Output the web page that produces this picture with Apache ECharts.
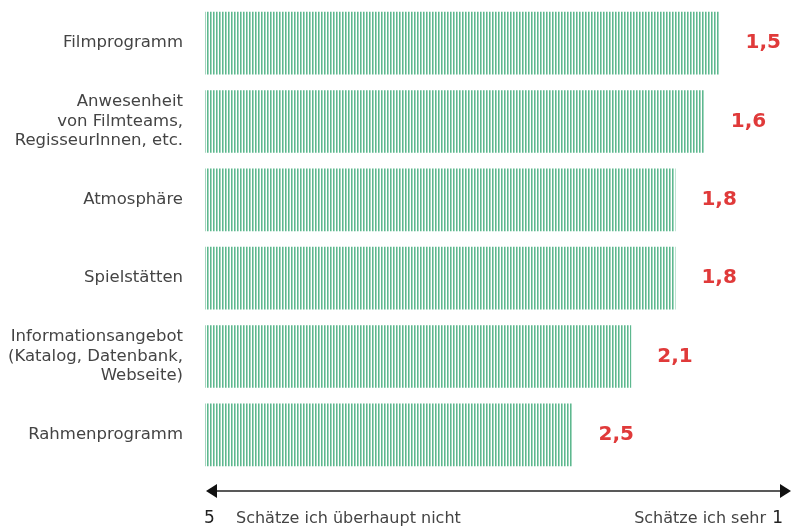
<!DOCTYPE html>
<html lang="de">
<head>
    <meta charset="UTF-8">
    <title>Bewertung</title>
    <script src="https://cdn.jsdelivr.net/npm/echarts@6/dist/echarts.min.js"></script>
</head>
<style>
    html,body{
        padding: 0;
        margin: 0;
        background: #fff;
    }
</style>
<body>
<div id="chart" style="width: 794px;height:527px;"></div>
</body>
<script type="text/javascript">
    // Daten (Skala 5 = schätze ich überhaupt nicht ... 1 = schätze ich sehr)
    var categories = [
        'Filmprogramm',
        'Anwesenheit\nvon Filmteams,\nRegisseurInnen, etc.',
        'Atmosphäre',
        'Spielstätten',
        'Informationsangebot\n(Katalog, Datenbank,\nWebseite)',
        'Rahmenprogramm'
    ];
    var scores = [1.5, 1.6, 1.8, 1.8, 2.1, 2.5];
    var scaleEnds = [5, 1];
    var scaleTexts = ['Schätze ich überhaupt nicht', 'Schätze ich sehr'];

    var font = '"DejaVu Sans", sans-serif';

    // Streifenmuster für die Balken
    var pat = document.createElement('canvas');
    pat.width = 3;
    pat.height = 4;
    var ctx = pat.getContext('2d');
    ctx.fillStyle = '#ffffff';
    ctx.fillRect(0, 0, 3, 4);
    ctx.fillStyle = '#5db88f';
    ctx.fillRect(0, 0, 1, 4);
    ctx.fillStyle = '#a3d6be';
    ctx.fillRect(1, 0, 1, 4);

    var myChart = echarts.init(document.getElementById('chart'));

    // Balkenlänge = Abstand vom Skalenanfang (5)
    var barData = scores.map(function (v) {
        return { value: scaleEnds[0] - v, score: v };
    });

    var option = {
        animation: false,
        grid: { left: 205, right: 1, top: 4, height: 470 },
        xAxis: {
            type: 'value',
            min: 0,
            max: scaleEnds[0] - scaleEnds[1],
            splitLine: { show: false },
            axisTick: { show: false },
            axisLabel: { show: false },
            axisLine: { show: false }
        },
        yAxis: {
            type: 'category',
            inverse: true,
            data: categories,
            axisLine: { show: false },
            axisTick: { show: false },
            axisLabel: {
                margin: 22,
                color: '#444',
                fontSize: 16.5,
                lineHeight: 19.5,
                fontFamily: font,
                align: 'right',
                padding: [6, 0, 0, 0]
            }
        },
        series: [{
            type: 'bar',
            data: barData,
            barWidth: '80%',
            itemStyle: { color: { image: pat, repeat: 'repeat' } },
            label: {
                show: true,
                position: 'right',
                distance: 26,
                color: '#e03a3a',
                fontSize: 20,
                fontWeight: 'bold',
                fontFamily: font,
                formatter: function (p) {
                    return String(p.data.score).replace('.', ',');
                }
            }
        }],
        graphic: [
            {
                type: 'line',
                shape: { x1: 214, y1: 491, x2: 782, y2: 491 },
                style: { stroke: '#222', lineWidth: 1.3 }
            },
            {
                type: 'polygon',
                shape: { points: [[206, 491], [217, 484], [217, 498]] },
                style: { fill: '#111' }
            },
            {
                type: 'polygon',
                shape: { points: [[791, 491], [780, 484], [780, 498]] },
                style: { fill: '#111' }
            },
            {
                type: 'text', left: 204, top: 510,
                style: { text: String(scaleEnds[0]), fill: '#222', font: '17px ' + font }
            },
            {
                type: 'text', left: 236, top: 511,
                style: { text: scaleTexts[0], fill: '#444', font: '16px ' + font }
            },
            {
                type: 'text', right: 28, top: 511,
                style: { text: scaleTexts[1], fill: '#444', font: '16px ' + font }
            },
            {
                type: 'text', right: 11, top: 510,
                style: { text: String(scaleEnds[1]), fill: '#222', font: '17px ' + font }
            }
        ]
    };

    myChart.setOption(option);
</script>
</html>
